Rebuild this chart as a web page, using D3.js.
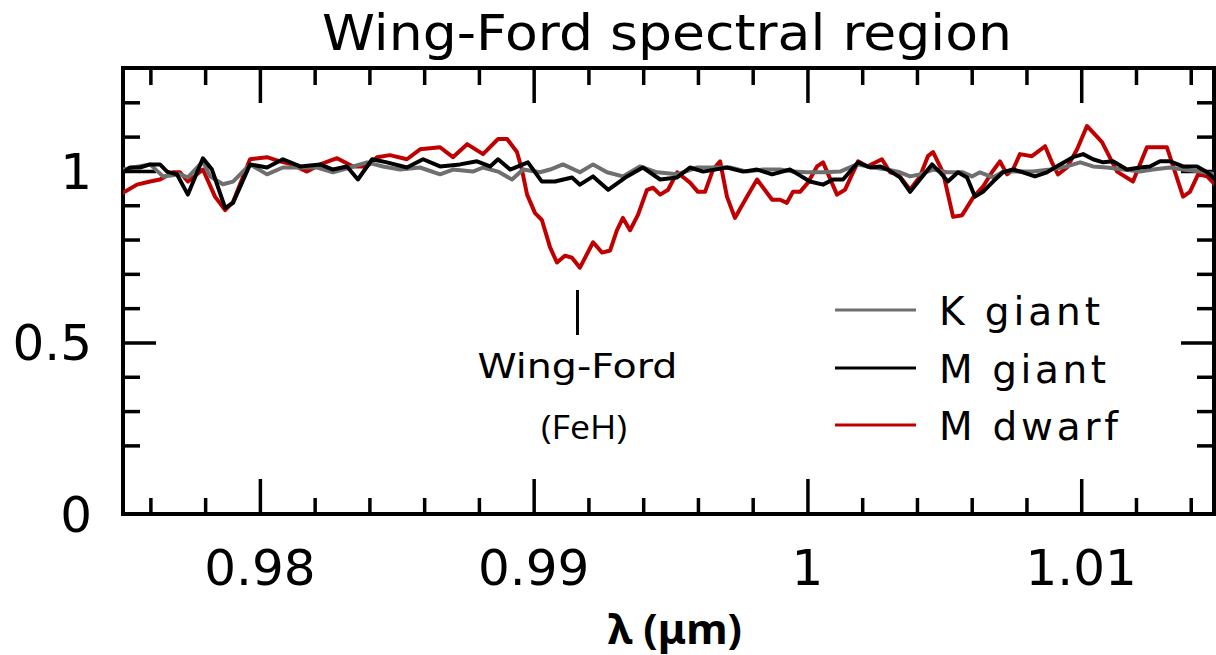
<!DOCTYPE html>
<html><head><meta charset="utf-8">
<script src="https://cdn.jsdelivr.net/npm/d3@7"></script>
<style>html,body{margin:0;padding:0;background:#fff;}svg{display:block;}</style>
</head><body><svg id="c" width="1216" height="655"></svg>
<script>
// ---- data ----
const kGiantWavelength = [0.97500,0.97537,0.97599,0.97646,0.97708,0.97737,0.97792,0.97818,0.97865,0.97902,0.97964,0.98026,0.98084,0.98147,0.98209,0.98267,0.98329,0.98391,0.98450,0.98512,0.98585,0.98658,0.98705,0.98778,0.98815,0.98870,0.98921,0.98961,0.99023,0.99060,0.99107,0.99169,0.99217,0.99268,0.99326,0.99388,0.99451,0.99524,0.99597,0.99655,0.99717,0.99779,0.99838,0.99900,0.99947,0.99998,1.00057,1.00119,1.00181,1.00240,1.00291,1.00338,1.00375,1.00411,1.00459,1.00510,1.00568,1.00601,1.00630,1.00678,1.00714,1.00766,1.00824,1.00886,1.00948,1.00996,1.01043,1.01094,1.01153,1.01215,1.01262,1.01324,1.01372,1.01434,1.01489];
const kGiantFlux = [1.004,1.010,1.019,0.984,0.990,0.981,1.028,0.984,0.961,0.969,1.019,0.990,1.010,1.010,1.010,0.996,1.010,1.025,1.013,1.004,1.010,0.990,1.004,0.998,1.010,0.998,0.975,1.004,0.996,1.004,1.019,0.996,1.019,0.996,0.984,1.013,0.996,0.990,1.010,1.010,1.010,0.998,1.004,1.004,0.998,0.996,0.996,0.998,1.019,1.010,1.004,0.996,0.984,0.990,1.004,0.996,0.996,0.984,0.996,0.981,0.998,0.998,0.998,1.004,1.013,1.025,1.013,1.010,1.004,0.998,1.004,1.010,1.004,0.998,0.990];

const mGiantWavelength = [0.97500,0.97526,0.97562,0.97599,0.97635,0.97661,0.97697,0.97737,0.97792,0.97825,0.97873,0.97902,0.97964,0.98026,0.98084,0.98147,0.98220,0.98267,0.98318,0.98358,0.98410,0.98464,0.98537,0.98596,0.98658,0.98731,0.98793,0.98841,0.98870,0.98914,0.98979,0.99030,0.99078,0.99140,0.99169,0.99217,0.99272,0.99341,0.99399,0.99462,0.99524,0.99571,0.99619,0.99706,0.99765,0.99816,0.99871,0.99936,0.99966,1.00009,1.00057,1.00093,1.00130,1.00185,1.00229,1.00265,1.00294,1.00338,1.00375,1.00411,1.00455,1.00484,1.00513,1.00550,1.00583,1.00612,1.00641,1.00678,1.00714,1.00751,1.00787,1.00831,1.00875,1.00923,1.00970,1.01007,1.01043,1.01080,1.01116,1.01167,1.01215,1.01251,1.01288,1.01324,1.01372,1.01423,1.01460,1.01489];
const mGiantFlux = [0.996,1.010,1.010,1.019,1.019,0.998,0.990,0.931,1.037,1.004,0.892,0.907,1.019,1.010,1.034,1.013,1.019,1.004,1.013,0.975,1.034,1.025,1.010,1.034,1.013,1.019,1.028,1.013,1.034,1.004,1.025,0.969,0.969,0.981,0.960,0.984,0.945,0.984,1.010,0.975,0.981,1.010,0.998,1.010,0.998,1.004,0.990,1.004,0.990,0.969,0.960,0.975,0.975,1.025,1.010,1.013,1.004,0.981,0.939,0.975,1.019,0.996,0.969,0.996,0.981,0.925,0.939,0.969,0.996,1.004,0.996,0.984,0.996,1.019,1.040,1.049,1.034,1.025,1.028,1.004,1.010,1.013,1.028,1.028,1.013,1.013,0.996,0.975];

const mDwarfWavelength = [0.97500,0.97551,0.97599,0.97635,0.97683,0.97708,0.97737,0.97792,0.97836,0.97873,0.97902,0.97964,0.98026,0.98073,0.98117,0.98172,0.98220,0.98282,0.98340,0.98391,0.98428,0.98475,0.98537,0.98585,0.98658,0.98705,0.98757,0.98815,0.98870,0.98903,0.98939,0.98957,0.98976,0.99005,0.99030,0.99060,0.99085,0.99114,0.99140,0.99169,0.99217,0.99250,0.99279,0.99304,0.99326,0.99352,0.99381,0.99414,0.99436,0.99462,0.99491,0.99524,0.99571,0.99600,0.99626,0.99655,0.99681,0.99706,0.99735,0.99779,0.99816,0.99871,0.99900,0.99925,0.99947,0.99973,1.00002,1.00035,1.00057,1.00108,1.00137,1.00185,1.00218,1.00272,1.00302,1.00331,1.00375,1.00411,1.00440,1.00459,1.00495,1.00532,1.00565,1.00605,1.00641,1.00674,1.00703,1.00729,1.00751,1.00776,1.00820,1.00868,1.00893,1.00915,1.00948,1.00985,1.01021,1.01076,1.01131,1.01189,1.01240,1.01313,1.01372,1.01397,1.01427,1.01460,1.01489];
const mDwarfFlux = [0.936,0.960,0.969,0.975,0.996,0.996,0.969,1.004,0.925,0.886,0.910,1.034,1.040,1.028,1.019,0.998,1.019,1.037,1.013,1.013,1.040,1.046,1.034,1.063,1.069,1.040,1.078,1.049,1.093,1.093,1.055,1.004,0.931,0.877,0.857,0.777,0.733,0.753,0.747,0.718,0.792,0.762,0.768,0.827,0.863,0.827,0.872,0.945,0.951,0.931,0.945,0.996,0.966,0.939,0.939,1.004,1.028,0.925,0.863,0.925,0.975,0.916,0.916,0.907,0.939,0.939,0.966,1.013,1.025,0.931,0.945,1.028,1.013,1.034,0.996,0.990,0.945,0.984,1.043,1.055,0.996,0.866,0.871,0.922,0.954,0.996,1.028,0.990,1.004,1.049,1.043,1.072,1.025,0.990,1.010,1.063,1.131,1.084,0.998,0.969,1.069,1.069,0.925,0.939,0.990,0.984,0.960];

const seriesNames = ["K giant", "M giant", "M dwarf"];
const xMajorTicks = [0.98, 0.99, 1, 1.01];
const xMajorLabels = ["0.98", "0.99", "1", "1.01"];
const yLabelTicks = [0, 0.5, 1];
const yLabels = ["0", "0.5", "1"];
const featureWavelength = 0.9916;
const titleText = "Wing-Ford spectral region";
const featureLabel = "Wing-Ford";
const featureSub = "(FeH)";
const xTitle = "λ (μm)";

// ---- drawing ----
const svg = d3.select("#c");
const x = d3.scaleLinear().domain([0.975, 1.01485]).range([123, 1214]);
const y = d3.scaleLinear().domain([0, 1.3]).range([514, 68]);
const colors = {"K giant": "#6f6f6f", "M giant": "#000000", "M dwarf": "#c00000"};
const HERSHEY = "'DejaVu Sans', 'Liberation Sans', sans-serif";

svg.append("defs").append("clipPath").attr("id", "plotclip")
  .append("rect").attr("x", x.range()[0]).attr("y", y.range()[1])
  .attr("width", x.range()[1] - x.range()[0]).attr("height", y.range()[0] - y.range()[1]);

const xMinor = d3.range(0, 20).map(i => +(0.976 + i * 0.002).toFixed(3))
  .filter(v => !xMajorTicks.some(m => Math.abs(m - v) < 1e-6));
const yMinor = d3.range(2, 13).map(i => +(i * 0.1).toFixed(1))
  .filter(v => Math.abs(v - 0.5) > 1e-6 && Math.abs(v - 1) > 1e-6);
const yMajor = [0.5, 1];

function styleAxis(g) {
  g.select(".domain").remove();
  g.selectAll(".tick line").attr("stroke", "#000").attr("stroke-width", 3.5);
  g.selectAll(".tick text").remove();
}
const [x0, x1] = x.range();
const [yb, yt] = y.range();

svg.append("g").attr("transform", `translate(0,${yb})`)
  .call(d3.axisBottom(x).tickValues(xMinor).tickSize(-16)).call(styleAxis);
svg.append("g").attr("transform", `translate(0,${yb})`)
  .call(d3.axisBottom(x).tickValues(xMajorTicks).tickSize(-35)).call(styleAxis);
svg.append("g").attr("transform", `translate(0,${yt})`)
  .call(d3.axisTop(x).tickValues(xMinor).tickSize(-17)).call(styleAxis);
svg.append("g").attr("transform", `translate(0,${yt})`)
  .call(d3.axisTop(x).tickValues(xMajorTicks).tickSize(-35)).call(styleAxis);
svg.append("g").attr("transform", `translate(${x0},0)`)
  .call(d3.axisLeft(y).tickValues(yMinor).tickSize(-17)).call(styleAxis);
svg.append("g").attr("transform", `translate(${x0},0)`)
  .call(d3.axisLeft(y).tickValues(yMajor).tickSize(-33)).call(styleAxis);
svg.append("g").attr("transform", `translate(${x1},0)`)
  .call(d3.axisRight(y).tickValues(yMinor).tickSize(-17)).call(styleAxis);
svg.append("g").attr("transform", `translate(${x1},0)`)
  .call(d3.axisRight(y).tickValues(yMajor).tickSize(-33)).call(styleAxis);

svg.append("rect").attr("x", x0).attr("y", yt).attr("width", x1 - x0).attr("height", yb - yt)
  .attr("fill", "none").attr("stroke", "#000").attr("stroke-width", 4);

svg.append("g").selectAll("text").data(xMajorTicks).join("text")
  .attr("x", d => x(d)).attr("y", yb + 71)
  .attr("text-anchor", "middle").attr("font-family", HERSHEY).attr("font-size", 50)
  .attr("fill", "#000").text((d, i) => xMajorLabels[i]);
svg.append("g").selectAll("text").data(yLabelTicks).join("text")
  .attr("x", x0 - 31).attr("y", d => y(d)).attr("dy", "0.36em")
  .attr("text-anchor", "end").attr("font-family", HERSHEY).attr("font-size", 50)
  .attr("fill", "#000").text((d, i) => yLabels[i]);

svg.append("text").attr("x", 322).attr("y", 50)
  .attr("font-family", HERSHEY).attr("font-size", 50)
  .attr("textLength", 690).attr("lengthAdjust", "spacingAndGlyphs")
  .attr("fill", "#000").text(titleText);

svg.append("text").attr("x", 675).attr("y", 644).attr("text-anchor", "middle")
  .attr("font-family", "'Noto Sans', 'Open Sans', sans-serif").attr("font-weight", "bold")
  .attr("font-size", 42).attr("textLength", 134).attr("lengthAdjust", "spacingAndGlyphs")
  .attr("fill", "#000").text(xTitle);

const series = [
  {name: "M dwarf", wl: mDwarfWavelength, fl: mDwarfFlux},
  {name: "K giant", wl: kGiantWavelength, fl: kGiantFlux},
  {name: "M giant", wl: mGiantWavelength, fl: mGiantFlux}
];
const line = d3.line().x(d => x(d[0])).y(d => y(d[1]));
svg.append("g").attr("clip-path", "url(#plotclip)")
  .selectAll("path").data(series).join("path")
  .attr("d", s => line(d3.zip(s.wl, s.fl)))
  .attr("fill", "none").attr("stroke", s => colors[s.name])
  .attr("stroke-width", 4).attr("stroke-linejoin", "round").attr("stroke-linecap", "round");

svg.append("line").attr("x1", x(featureWavelength)).attr("x2", x(featureWavelength))
  .attr("y1", 290).attr("y2", 335).attr("stroke", "#000").attr("stroke-width", 3);
svg.append("text").attr("x", x(featureWavelength)).attr("y", 378).attr("text-anchor", "middle")
  .attr("font-family", HERSHEY).attr("font-size", 34)
  .attr("textLength", 200).attr("lengthAdjust", "spacingAndGlyphs")
  .attr("fill", "#000").text(featureLabel);
svg.append("text").attr("x", 584).attr("y", 439).attr("text-anchor", "middle")
  .attr("font-family", "'Open Sans', 'Noto Sans', sans-serif").attr("font-size", 32)
  .attr("textLength", 86).attr("lengthAdjust", "spacingAndGlyphs")
  .attr("fill", "#000").text(featureSub);

const legendY = [310, 368, 425];
const legendLen = [161, 167, 179];
const lg = svg.append("g").selectAll("g").data(seriesNames).join("g")
  .attr("transform", (d, i) => `translate(835,${legendY[i]})`);
lg.append("line").attr("x1", 0).attr("x2", 81).attr("y1", 0).attr("y2", 0)
  .attr("stroke", d => colors[d]).attr("stroke-width", 3);
lg.append("text").attr("x", 104).attr("y", 15)
  .attr("font-family", HERSHEY).attr("font-size", 39)
  .attr("textLength", (d, i) => legendLen[i]).attr("lengthAdjust", "spacing")
  .attr("fill", "#000").text(d => d);
</script>
</body></html>
